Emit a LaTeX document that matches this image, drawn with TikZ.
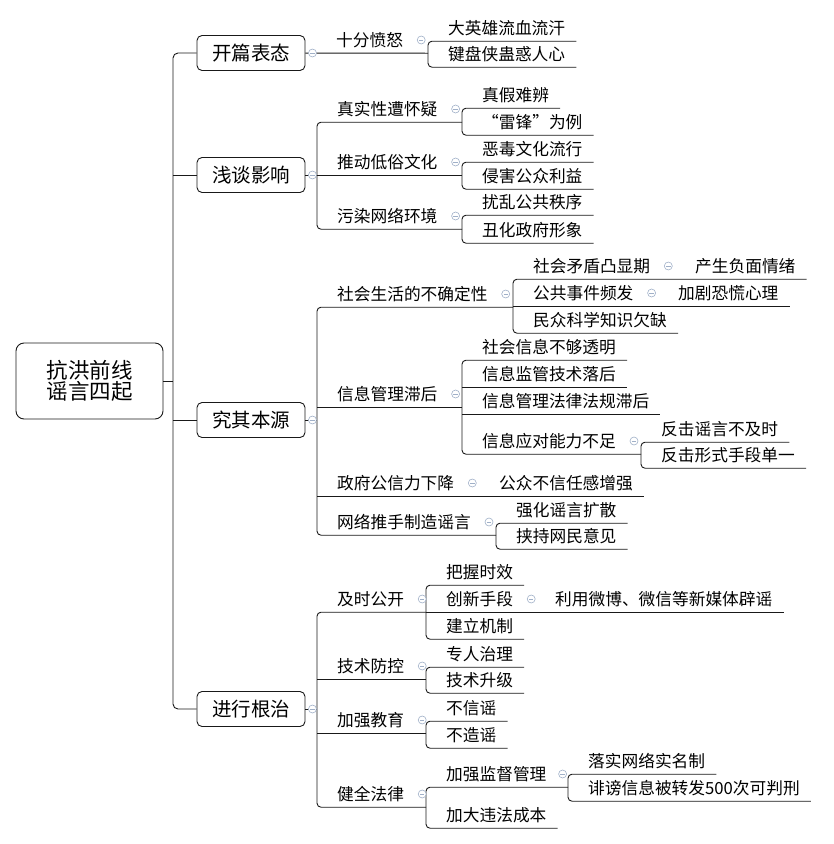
\documentclass[tikz,border=0pt]{standalone}
\usepackage{fontspec}
\setmainfont{Noto Sans CJK SC}
\definecolor{foldc}{RGB}{160,176,200}
\tikzset{
  link/.style={draw=black!90, line width=0.9pt},
  rootbox/.style={draw=black!90, line width=0.9pt, rounded corners=8pt, minimum width=147pt, minimum height=76pt, align=center, font=\fontsize{21.5}{21}\selectfont},
  mainbox/.style={draw=black!90, line width=0.9pt, rounded corners=5pt, minimum width=108pt, minimum height=35pt, font=\fontsize{19.5}{22}\selectfont},
  topic/.style={anchor=west, inner xsep=0pt, inner ysep=4.75pt, text height=14.5pt, text depth=2pt, font=\fontsize{16.7}{20}\selectfont},
  fold/.style={circle, draw=foldc, fill=white, line width=0.6pt, minimum size=8pt, inner sep=0pt,
    path picture={\draw[foldc, line width=0.6pt] ([xshift=-2.2pt]path picture bounding box.center) -- ([xshift=2.2pt]path picture bounding box.center);}}
}
\begin{document}
\begin{tikzpicture}[x=1pt,y=-1pt]
  \useasboundingbox (0,0) rectangle (834,844);
  \path
    (89.5,381) node[rootbox] (root) {抗洪前线\\谣言四起}
    (251,53) node[mainbox] (b1) {开篇表态}
    (251,175) node[mainbox] (b2) {浅谈影响}
    (251,420) node[mainbox] (b3) {究其本源}
    (251,709) node[mainbox] (b4) {进行根治};
  \path
    (336,40) node[topic] (k1) {十分愤怒}
    (448,28) node[topic] (k11) {大英雄流血流汗}
    (448,54) node[topic] (k12) {键盘侠蛊惑人心}
    (337,109) node[topic] (m1) {真实性遭怀疑}
    (482,95) node[topic] (m11) {真假难辨}
    (482,122) node[topic] (m12) {“雷锋”为例}
    (337,162) node[topic] (m2) {推动低俗文化}
    (482,149) node[topic] (m21) {恶毒文化流行}
    (482,176) node[topic] (m22) {侵害公众利益}
    (337,216) node[topic] (m3) {污染网络环境}
    (482,202) node[topic] (m31) {扰乱公共秩序}
    (482,230) node[topic] (m32) {丑化政府形象}
    (337,294) node[topic] (n1) {社会生活的不确定性}
    (533,266) node[topic] (n11) {社会矛盾凸显期}
    (695,266) node[topic] (n111) {产生负面情绪}
    (533,293) node[topic] (n12) {公共事件频发}
    (678,293) node[topic] (n121) {加剧恐慌心理}
    (533,320) node[topic] (n13) {民众科学知识欠缺}
    (337,394) node[topic] (n2) {信息管理滞后}
    (482,347) node[topic] (n21) {社会信息不够透明}
    (482,374) node[topic] (n22) {信息监管技术落后}
    (482,401) node[topic] (n23) {信息管理法律法规滞后}
    (482,441) node[topic] (n24) {信息应对能力不足}
    (661,429) node[topic] (n241) {反击谣言不及时}
    (661,455) node[topic] (n242) {反击形式手段单一}
    (337,483) node[topic] (n3) {政府公信力下降}
    (499,483) node[topic] (n31) {公众不信任感增强}
    (337,522) node[topic] (n4) {网络推手制造谣言}
    (516,510) node[topic] (n41) {强化谣言扩散}
    (516,536) node[topic] (n42) {挟持网民意见}
    (337,599) node[topic] (p1) {及时公开}
    (446,572) node[topic] (p11) {把握时效}
    (446,599) node[topic] (p12) {创新手段}
    (555,599) node[topic] (p121) {利用微博、微信等新媒体辟谣}
    (446,626) node[topic] (p13) {建立机制}
    (337,666) node[topic] (p2) {技术防控}
    (446,654) node[topic] (p21) {专人治理}
    (446,680) node[topic] (p22) {技术升级}
    (337,720) node[topic] (p3) {加强教育}
    (446,708) node[topic] (p31) {不信谣}
    (446,735) node[topic] (p32) {不造谣}
    (337,794) node[topic] (p4) {健全法律}
    (446,774) node[topic] (p41) {加强监督管理}
    (588,761) node[topic] (p411) {落实网络实名制}
    (588,788) node[topic] (p412) {诽谤信息被转发500次可判刑}
    (446,815) node[topic] (p42) {加大违法成本};
  % spines
  \coordinate (hub) at (173,381);
  \coordinate (k1s) at (428,0);
  \coordinate (b2s) at (317,0);
  \coordinate (m1s) at (462,0);
  \coordinate (m2s) at (462,0);
  \coordinate (m3s) at (462,0);
  \coordinate (b3s) at (317,0);
  \coordinate (n1s) at (513,0);
  \coordinate (n2s) at (462,0);
  \coordinate (n24s) at (641,0);
  \coordinate (n4s) at (496,0);
  \coordinate (b4s) at (317,0);
  \coordinate (p1s) at (426,0);
  \coordinate (p2s) at (426,0);
  \coordinate (p3s) at (426,0);
  \coordinate (p4s) at (426,0);
  \coordinate (p41s) at (568,0);
  \begin{scope}[link]
    \draw (root) -- (hub);
    \draw[rounded corners=5pt] (b1) -| (hub) |- (b4);
    \draw (b2) -- (b2 -| hub);
    \draw (b3) -- (b3 -| hub);
    % 开篇表态
    \draw (b1) -- (k1.south -| k1s);
    \draw[rounded corners=4pt] ([xshift=11pt]k11.south east) -- (k11.south -| k1s) -- (k12.south -| k1s) -- ([xshift=11pt]k12.south east);
    % 浅谈影响
    \draw (b2) -- (b2 -| b2s);
    \draw[rounded corners=4pt] (m1.south -| m1s) -- (m1.south -| b2s) -- (m3.south -| b2s) -- (m3.south -| m3s);
    \draw (m2.south -| b2s) -- (m2.south -| m2s);
    \draw[rounded corners=4pt] ([xshift=11pt]m11.south east) -- (m11.south -| m1s) -- (m12.south -| m1s) -- ([xshift=11pt]m12.south east);
    \draw[rounded corners=4pt] ([xshift=11pt]m21.south east) -- (m21.south -| m2s) -- (m22.south -| m2s) -- ([xshift=11pt]m22.south east);
    \draw[rounded corners=4pt] ([xshift=11pt]m31.south east) -- (m31.south -| m3s) -- (m32.south -| m3s) -- ([xshift=11pt]m32.south east);
    % 究其本源
    \draw (b3) -- (b3 -| b3s);
    \draw[rounded corners=4pt] (n1.south -| n1s) -- (n1.south -| b3s) -- (n4.south -| b3s) -- (n4.south -| n4s);
    \draw (n2.south -| b3s) -- (n2.south -| n2s);
    \draw (n3.south -| b3s) -- ([xshift=11pt]n31.south east);
    \draw[rounded corners=4pt] ([xshift=11pt]n111.south east) -- (n11.south -| n1s) -- (n13.south -| n1s) -- ([xshift=11pt]n13.south east);
    \draw (n12.south -| n1s) -- ([xshift=11pt]n121.south east);
    \draw[rounded corners=4pt] ([xshift=11pt]n21.south east) -- (n21.south -| n2s) -- (n24.south -| n2s) -- (n24.south -| n24s);
    \draw (n22.south -| n2s) -- ([xshift=11pt]n22.south east);
    \draw (n23.south -| n2s) -- ([xshift=11pt]n23.south east);
    \draw[rounded corners=4pt] ([xshift=11pt]n241.south east) -- (n241.south -| n24s) -- (n242.south -| n24s) -- ([xshift=11pt]n242.south east);
    \draw[rounded corners=4pt] ([xshift=11pt]n41.south east) -- (n41.south -| n4s) -- (n42.south -| n4s) -- ([xshift=11pt]n42.south east);
    % 进行根治
    \draw (b4) -- (b4 -| b4s);
    \draw[rounded corners=4pt] (p1.south -| p1s) -- (p1.south -| b4s) -- (p4.south -| b4s) -- (p4.south -| p4s);
    \draw (p2.south -| b4s) -- (p2.south -| p2s);
    \draw (p3.south -| b4s) -- (p3.south -| p3s);
    \draw[rounded corners=4pt] ([xshift=11pt]p11.south east) -- (p11.south -| p1s) -- (p13.south -| p1s) -- ([xshift=11pt]p13.south east);
    \draw (p12.south -| p1s) -- ([xshift=11pt]p121.south east);
    \draw[rounded corners=4pt] ([xshift=11pt]p21.south east) -- (p21.south -| p2s) -- (p22.south -| p2s) -- ([xshift=11pt]p22.south east);
    \draw[rounded corners=4pt] ([xshift=11pt]p31.south east) -- (p31.south -| p3s) -- (p32.south -| p3s) -- ([xshift=11pt]p32.south east);
    \draw[rounded corners=4pt] (p41.south -| p41s) -- (p41.south -| p4s) -- (p42.south -| p4s) -- ([xshift=11pt]p42.south east);
    \draw[rounded corners=4pt] ([xshift=11pt]p411.south east) -- (p411.south -| p41s) -- (p412.south -| p41s) -- ([xshift=11pt]p412.south east);
  \end{scope}
  % fold markers
  \path
    ([xshift=7pt]b1.east) node[fold] (b1f) {}
    ([xshift=7pt]b2.east) node[fold] (b2f) {}
    ([xshift=7pt]b3.east) node[fold] (b3f) {}
    ([xshift=7pt]b4.east) node[fold] (b4f) {}
    ([xshift=18pt]k1.east) node[fold] (k1f) {}
    ([xshift=18pt]m1.east) node[fold] (m1f) {}
    ([xshift=18pt]m2.east) node[fold] (m2f) {}
    ([xshift=18pt]m3.east) node[fold] (m3f) {}
    ([xshift=18pt]n1.east) node[fold] (n1f) {}
    ([xshift=18pt]n11.east) node[fold] (n11f) {}
    ([xshift=18pt]n12.east) node[fold] (n12f) {}
    ([xshift=18pt]n2.east) node[fold] (n2f) {}
    ([xshift=18pt]n24.east) node[fold] (n24f) {}
    ([xshift=18pt]n3.east) node[fold] (n3f) {}
    ([xshift=18pt]n4.east) node[fold] (n4f) {}
    ([xshift=18pt]p1.east) node[fold] (p1f) {}
    ([xshift=18pt]p12.east) node[fold] (p12f) {}
    ([xshift=18pt]p2.east) node[fold] (p2f) {}
    ([xshift=18pt]p3.east) node[fold] (p3f) {}
    ([xshift=18pt]p4.east) node[fold] (p4f) {}
    ([xshift=16pt]p41.east) node[fold] (p41f) {};
\end{tikzpicture}
\end{document}
